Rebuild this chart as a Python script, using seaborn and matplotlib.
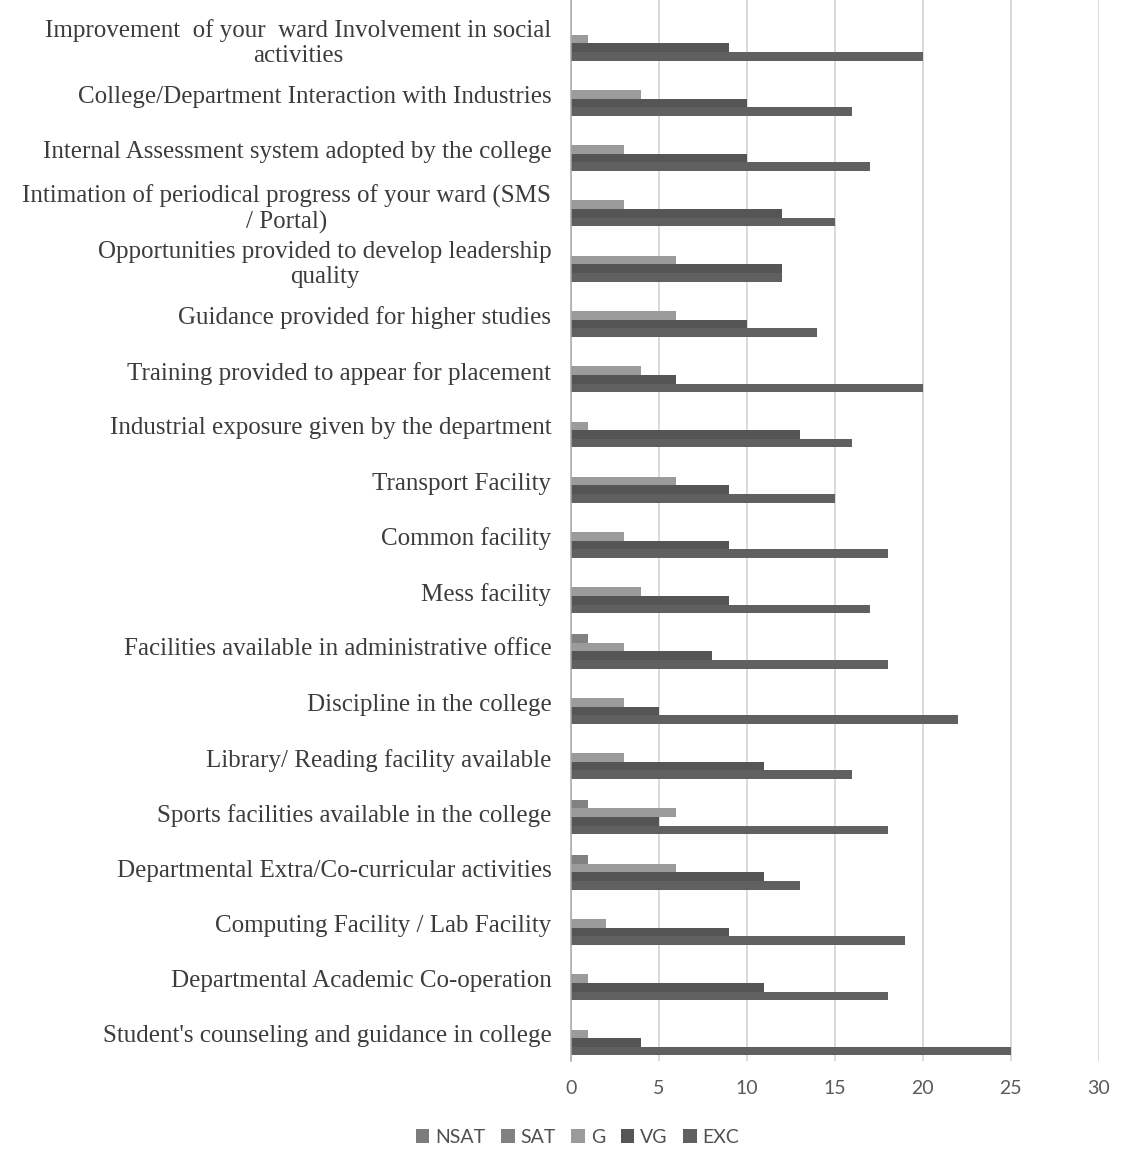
import pandas as pd
import numpy as np
import matplotlib.pyplot as plt
import seaborn as sns

# categories from top to bottom as they appear on the chart
questions = [
    "Improvement  of your  ward Involvement in social\nactivities",
    "College/Department Interaction with Industries",
    "Internal Assessment system adopted by the college",
    "Intimation of periodical progress of your ward (SMS\n/ Portal)",
    "Opportunities provided to develop leadership\nquality",
    "Guidance provided for higher studies",
    "Training provided to appear for placement",
    "Industrial exposure given by the department",
    "Transport Facility",
    "Common facility",
    "Mess facility",
    "Facilities available in administrative office",
    "Discipline in the college",
    "Library/ Reading facility available",
    "Sports facilities available in the college",
    "Departmental Extra/Co-curricular activities",
    "Computing Facility / Lab Facility",
    "Departmental Academic Co-operation",
    "Student's counseling and guidance in college",
]

ratings = ['NSAT', 'SAT', 'G', 'VG', 'EXC']

nsat = [0, 0, 0, 0, 0, 0, 0, 0, 0, 0, 0, 0, 0, 0, 0, 0, 0, 0, 0]
sat = [0, 0, 0, 0, 0, 0, 0, 0, 0, 0, 0, 1, 0, 0, 1, 1, 0, 0, 0]
good = [1, 4, 3, 3, 6, 6, 4, 1, 6, 3, 4, 3, 3, 3, 6, 6, 2, 1, 1]
very_good = [9, 10, 10, 12, 12, 10, 6, 13, 9, 9, 9, 8, 5, 11, 5, 11, 9, 11, 4]
excellent = [20, 16, 17, 15, 12, 14, 20, 16, 15, 18, 17, 18, 22, 16, 18, 13, 19, 18, 25]

x_ticks = [0, 5, 10, 15, 20, 25, 30]

colors = ['#7c7c7c', '#818181', '#9b9b9b', '#555555', '#606060']

# long format for seaborn
df = pd.DataFrame({'question': questions, 'NSAT': nsat, 'SAT': sat, 'G': good,
                   'VG': very_good, 'EXC': excellent})
df = df.melt(id_vars='question', var_name='rating', value_name='count')

sns.set_style('white')
fig = plt.figure(figsize=(11.28, 11.69), dpi=100)
ax = fig.add_axes([0.506, 0.0924, 0.468, 0.9076])

sns.barplot(data=df, y='question', x='count', hue='rating', hue_order=ratings,
            order=questions, palette=colors, orient='h', width=0.78,
            linewidth=0, saturation=1, ax=ax)

ax.set_xlim(0, 30)
ax.set_ylim(18.49, -0.705)
ax.set_xticks(x_ticks)
ax.set_xlabel('')
ax.set_ylabel('')
ax.xaxis.grid(True, color='#cfcfcf', linewidth=1.1)
ax.set_axisbelow(True)
for s in ['top', 'right', 'bottom']:
    ax.spines[s].set_visible(False)
ax.spines['left'].set_color('#a8a8a8')
ax.spines['left'].set_linewidth(1.1)

ax.tick_params(axis='both', length=0)
ax.tick_params(axis='x', pad=14)
ax.tick_params(axis='y', pad=14)
for t in ax.get_xticklabels():
    t.set_fontfamily('Lato')
    t.set_fontsize(14)
    t.set_color('#5a5a5a')
for t in ax.get_yticklabels():
    t.set_fontfamily('Liberation Serif')
    t.set_fontsize(18)
    t.set_color('#3c3c3c')
    t.set_multialignment('center')

# legend below the plot
handles, labels = ax.get_legend_handles_labels()
ax.get_legend().remove()
fig.legend(handles, labels, loc='center', bbox_to_anchor=(0.512, 0.027), ncol=5,
           frameon=False, handlelength=0.7, handleheight=0.7, handletextpad=0.3,
           columnspacing=0.8, prop={'family': 'Lato', 'size': 14},
           labelcolor='#505050')

fig.savefig('out.png', dpi=100)
